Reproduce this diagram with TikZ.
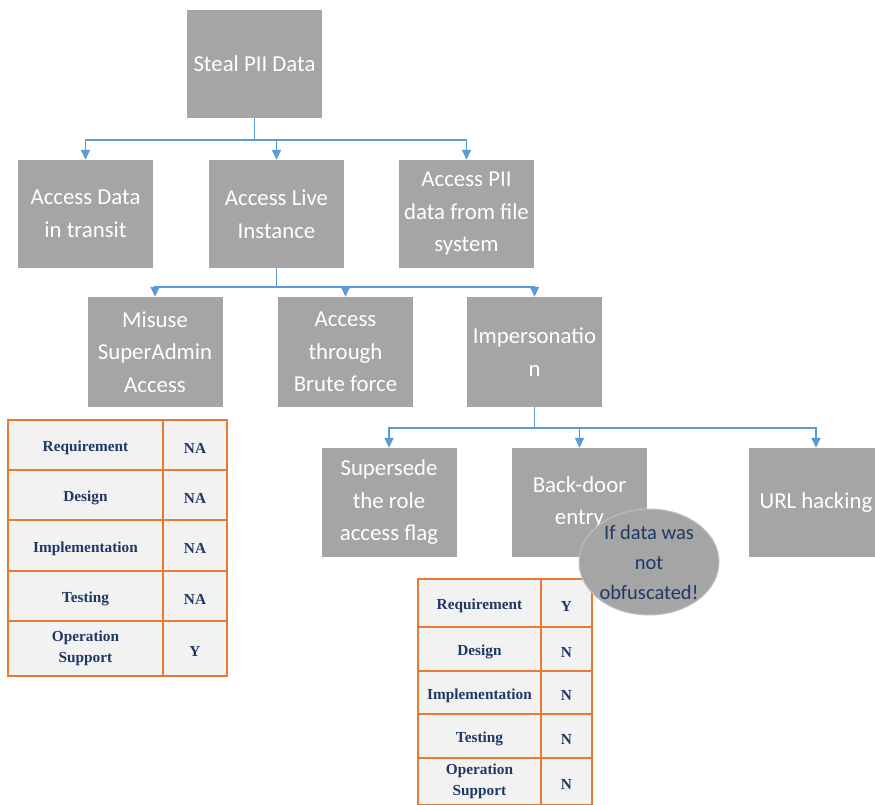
\documentclass[tikz,border=0pt]{standalone}
\usepackage{fontspec}
\setmainfont{Carlito}
\newfontfamily\tabfont{Liberation Serif}
\usetikzlibrary{arrows.meta,shapes.geometric}
\definecolor{boxgray}{HTML}{A5A5A5}
\definecolor{linkblue}{HTML}{5B9BD5}
\definecolor{tabline}{HTML}{E97A35}
\definecolor{tabfill}{HTML}{F2F2F2}
\definecolor{navy}{HTML}{1F3864}
\definecolor{ellborder}{HTML}{C0C0C0}
\newcommand\celltxt[1]{\raisebox{-3pt}[\height][\depth]{#1}}
\begin{document}
\begin{tikzpicture}[x=1pt,y=-1pt,
  box/.style={fill=boxgray, text=white, minimum width=135pt, minimum height=108pt,
    align=center, inner sep=0pt, font=\fontsize{22.8}{32.5}\selectfont},
  link/.style={draw=linkblue, line width=1.5pt, -{Triangle[length=10pt,width=9pt]}},
  plainlink/.style={draw=linkblue, line width=1.5pt},
  cell/.style={draw=tabline, fill=tabfill, line width=1.2pt, text=navy,
    font=\tabfont\bfseries\fontsize{15.3}{21.5}\selectfont, align=center, inner sep=0pt},
  note/.style={ellipse, fill=boxgray, draw=ellborder, line width=1pt, text=navy,
    minimum width=140pt, minimum height=106pt, inner sep=0pt, align=center,
    font=\fontsize{20.5}{30}\selectfont}]
\useasboundingbox (0,0) rectangle (875,805);

% boxes
\node[box] (steal) at (254.5,64) {Steal PII Data};
\node[box] (transit) at (85.5,214) {Access Data\\in transit};
\node[box] (live) at (276.5,214) {Access Live\\Instance};
\node[box] (file) at (466.5,214) {Access PII\\data from file\\system};
\node[box, minimum height=110pt] (misuse) at (155,352) {Misuse\\SuperAdmin\\Access};
\node[box, minimum height=110pt] (brute) at (345.5,352) {Access\\through\\Brute force};
\node[box, minimum height=110pt] (imp) at (534.5,352) {Impersonatio\\n};
\node[box, minimum height=109pt] (supersede) at (389,502.5) {Supersede\\the role\\access flag};
\node[box, minimum height=109pt] (backdoor) at (579.5,502.5) {Back-door\\entry};
\node[box, minimum height=109pt] (url) at (816,502.5) {URL hacking};

% connectors
\coordinate (j1) at (254.5,140);
\coordinate (j2) at (276.5,287);
\coordinate (j3) at (534.5,428);
\draw[plainlink] (steal.south) -- (j1);
\draw[link] (j1) -| (transit.north);
\draw[link] (j1) -| (live.north);
\draw[link] (j1) -| (file.north);
\draw[plainlink] (live.south) -- (j2);
\draw[link] (j2) -| (misuse.north);
\draw[link] (j2) -| (brute.north);
\draw[link] (j2) -| (imp.north);
\draw[plainlink] (imp.south) -- (j3);
\draw[link] (j3) -| (supersede.north);
\draw[link] (j3) -| (backdoor.north);
\draw[link] (j3) -| (url.north);

% left table
\node[cell, minimum width=155pt, minimum height=50pt] (la1) at (85.5,445) {\celltxt{Requirement}};
\node[cell, minimum width=64pt, minimum height=50pt] (lb1) at (195,445) {\celltxt{NA}};
\node[cell, minimum width=155pt, minimum height=50pt] (la2) at (85.5,495) {\celltxt{Design}};
\node[cell, minimum width=64pt, minimum height=50pt] (lb2) at (195,495) {\celltxt{NA}};
\node[cell, minimum width=155pt, minimum height=51pt] (la3) at (85.5,545.5) {\celltxt{Implementation}};
\node[cell, minimum width=64pt, minimum height=51pt] (lb3) at (195,545.5) {\celltxt{NA}};
\node[cell, minimum width=155pt, minimum height=50pt] (la4) at (85.5,596) {\celltxt{Testing}};
\node[cell, minimum width=64pt, minimum height=50pt] (lb4) at (195,596) {\celltxt{NA}};
\node[cell, minimum width=155pt, minimum height=55pt] (la5) at (85.5,648.5) {Operation\\Support};
\node[cell, minimum width=64pt, minimum height=55pt] (lb5) at (195,648.5) {\celltxt{Y}};

% right table
\node[cell, minimum width=123pt, minimum height=48pt] (ra1) at (479.5,603) {\celltxt{Requirement}};
\node[cell, minimum width=51pt, minimum height=48pt] (rb1) at (566.5,603) {\celltxt{Y}};
\node[cell, minimum width=123pt, minimum height=44pt] (ra2) at (479.5,649) {\celltxt{Design}};
\node[cell, minimum width=51pt, minimum height=44pt] (rb2) at (566.5,649) {\celltxt{N}};
\node[cell, minimum width=123pt, minimum height=43pt] (ra3) at (479.5,692.5) {\celltxt{Implementation}};
\node[cell, minimum width=51pt, minimum height=43pt] (rb3) at (566.5,692.5) {\celltxt{N}};
\node[cell, minimum width=123pt, minimum height=44pt] (ra4) at (479.5,736) {\celltxt{Testing}};
\node[cell, minimum width=51pt, minimum height=44pt] (rb4) at (566.5,736) {\celltxt{N}};
\node[cell, minimum width=123pt, minimum height=47pt] (ra5) at (479.5,781.5) {Operation\\Support};
\node[cell, minimum width=51pt, minimum height=47pt] (rb5) at (566.5,781.5) {\celltxt{N}};

% note
\node[note] (obf) at (649,562) {If data was\\not\\obfuscated!};
\end{tikzpicture}
\end{document}
